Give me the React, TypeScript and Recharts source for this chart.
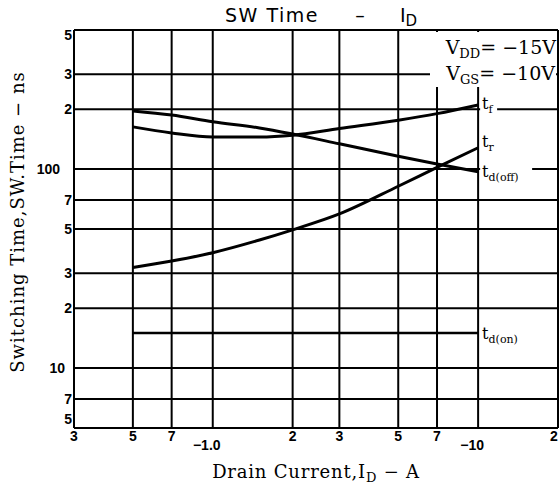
import { LineChart, Line, XAxis, YAxis, CartesianGrid, Customized } from "recharts";

// drain current (magnitude, A) where the curves were read
const current = [0.5, 0.7, 1, 1.5, 2, 3, 5, 7, 10];
// switching times, ns
const tF = [163, 152, 145, 145, 148, 160, 176, 190, 210];
const tDOff = [196, 187, 173, 161, 150, 134, 116, 106, 97];
const tR = [32, 34.5, 38, 44, 49.5, 59.5, 82, 102, 128];
const tDOn = [15, 15, 15, 15, 15, 15, 15, 15, 15];

const xTicks = [0.3, 0.5, 0.7, 1, 2, 3, 5, 7, 10, 20];
const xTickLabels = ["3", "5", "7", "−1.0", "2", "3", "5", "7", "−10", "2"];
const yTicks = [5, 7, 10, 20, 30, 50, 70, 100, 200, 300, 500];
const yTickLabels = ["5", "7", "10", "2", "3", "5", "7", "100", "2", "3", "5"];

const data = current.map((x, i) => ({
  x,
  tf: tF[i],
  tdoff: tDOff[i],
  tr: tR[i],
  tdon: tDOn[i],
}));

const SANS = "'Liberation Sans', Arial, sans-serif";
const SERIF = "'DejaVu Serif', serif";

function findIdx(list: number[], v: number) {
  return list.findIndex((t) => Math.abs(t - v) < 1e-6);
}

function XTick({ x, y, payload }: any) {
  const i = findIdx(xTicks, payload.value);
  const label = xTickLabels[i] ?? "";
  const major = label.startsWith("−");
  const last = i === xTicks.length - 1;
  return (
    <text
      x={major ? x - 6 : last ? x - 4 : x}
      y={major ? y + 14 : y + 5}
      textAnchor="middle"
      fontFamily={SANS}
      fontWeight="bold"
      fontSize={14}
      fill="#000"
    >
      {label}
    </text>
  );
}

function YTick({ x, y, payload }: any) {
  const v = payload.value;
  const label = yTickLabels[findIdx(yTicks, v)] ?? "";
  let dx = 6;
  if (label === "100") dx = -6;
  if (label === "10") dx = -1;
  let dy = 5;
  if (v === 500) dy = 10;
  if (v === 5) dy = -4;
  return (
    <text
      x={x + dx}
      y={y + dy}
      textAnchor="end"
      fontFamily={SANS}
      fontWeight="bold"
      fontSize={14}
      fill="#000"
    >
      {label}
    </text>
  );
}

function endLabel(main: string, sub: string, dy: number) {
  return (props: any) => {
    const { x, y, index } = props;
    if (index !== current.length - 1) return null;
    const w = 10 + sub.length * 7;
    return (
      <g>
        <rect x={x + 2} y={y + dy - 13} width={w} height={18} fill="#fff" />
        <text x={x + 4} y={y + dy} fontFamily={SERIF} fontSize={16} fill="#000">
          {main}
          <tspan fontSize={11} dy={4}>
            {sub}
          </tspan>
        </text>
      </g>
    );
  };
}

function Texts() {
  const title = { fontFamily: "'DejaVu Sans', sans-serif", fontSize: 19, fill: "#000" };
  return (
    <g>
      <text x={225} y={22} letterSpacing={1.5} {...title}>
        SW Time
      </text>
      <text x={360} y={22} textAnchor="middle" {...title}>
        –
      </text>
      <text x={400} y={22} {...title}>
        I
        <tspan fontSize={15} dy={4}>
          D
        </tspan>
      </text>
      <rect x={430} y={32} width={126} height={55} fill="#fff" />
      <text x={556} y={54} textAnchor="end" fontFamily={SERIF} fontSize={19} fill="#000">
        V
        <tspan fontSize={13} dy={4}>
          DD
        </tspan>
        <tspan dy={-4}>= −15V</tspan>
      </text>
      <text x={555} y={80} textAnchor="end" fontFamily={SERIF} fontSize={19} fill="#000">
        V
        <tspan fontSize={13} dy={4}>
          GS
        </tspan>
        <tspan dy={-4}>= −10V</tspan>
      </text>
      <text
        x={19}
        y={222}
        transform="rotate(-90 19 222)"
        textAnchor="middle"
        dominantBaseline="middle"
        fontFamily={SERIF}
        fontSize={18}
        letterSpacing={1}
        fill="#000"
      >
        Switching Time,SW.Time − ns
      </text>
      <text x={316} y={478} textAnchor="middle" fontFamily={SERIF} fontSize={18} letterSpacing={0.8} fill="#000">
        Drain Current,I
        <tspan fontSize={13} dy={4}>
          D
        </tspan>
        <tspan dy={-4}> − A</tspan>
      </text>
    </g>
  );
}

export default function App() {
  return (
    <div style={{ position: "absolute", left: 0, top: 0, width: 559, height: 486, background: "#fff" }}>
      <LineChart width={559} height={486} data={data} margin={{ top: 30, right: 1, bottom: 28, left: 34 }}>
        <CartesianGrid stroke="#000" strokeWidth={2} />
        <XAxis
          dataKey="x"
          type="number"
          scale="log"
          domain={[0.3, 20]}
          ticks={xTicks}
          interval={0}
          allowDataOverflow
          height={30}
          axisLine={false}
          tickLine={false}
          tick={<XTick />}
        />
        <YAxis
          type="number"
          scale="log"
          domain={[5, 500]}
          ticks={yTicks}
          interval={0}
          allowDataOverflow
          width={40}
          axisLine={false}
          tickLine={false}
          tick={<YTick />}
        />
        <Customized component={<Texts />} />
        <Line dataKey="tf" type="monotone" stroke="#000" strokeWidth={3} dot={false} isAnimationActive={false} label={endLabel("t", "f", 4)} />
        <Line dataKey="tdoff" type="monotone" stroke="#000" strokeWidth={3} dot={false} isAnimationActive={false} label={endLabel("t", "d(off)", 5)} />
        <Line dataKey="tr" type="monotone" stroke="#000" strokeWidth={3} dot={false} isAnimationActive={false} label={endLabel("t", "r", -1)} />
        <Line dataKey="tdon" type="monotone" stroke="#000" strokeWidth={2.6} dot={false} isAnimationActive={false} label={endLabel("t", "d(on)", 6)} />
      </LineChart>
    </div>
  );
}
